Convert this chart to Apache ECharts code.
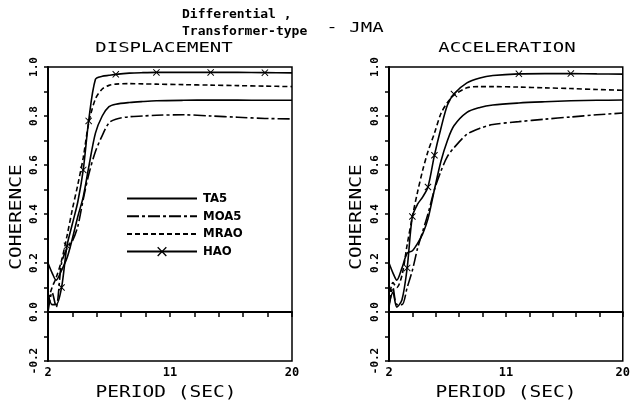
<!DOCTYPE html>
<html><head><meta charset="utf-8">
<script src="https://cdn.jsdelivr.net/npm/echarts@6/dist/echarts.min.js"></script>
<style>html,body{margin:0;padding:0;background:#fff}#c{width:633px;height:406px}</style>
</head><body><div id="c"></div>
<script>
// Period (sec) sample points
const period = [2, 2.3, 2.6, 3.0, 3.4, 3.8, 4.2, 4.6, 5.0, 5.5, 6.0, 6.5, 7, 8, 9, 10, 12, 14, 16, 18, 20];
// DISPLACEMENT panel
const dispTA5  = [0.20,0.16,0.13,0.17,0.22,0.30,0.39,0.47,0.59,0.73,0.80,0.838,0.848,0.855,0.859,0.862,0.864,0.865,0.865,0.864,0.864];
const dispMOA5 = [0.00,0.08,0.02,0.20,0.26,0.29,0.35,0.46,0.56,0.655,0.72,0.772,0.787,0.797,0.800,0.803,0.805,0.800,0.795,0.790,0.788];
const dispMRAO = [0.05,0.10,0.14,0.21,0.31,0.42,0.52,0.63,0.77,0.87,0.91,0.925,0.930,0.932,0.931,0.930,0.928,0.926,0.924,0.922,0.920];
const dispHAO  = [0.08,0.03,0.03,0.10,0.27,0.36,0.45,0.58,0.78,0.95,0.962,0.966,0.970,0.975,0.977,0.978,0.978,0.978,0.978,0.977,0.976];
const dispHAOMarks = [3.0, 3.4, 4.6, 5.0, 7, 10, 14, 18];
// ACCELERATION panel
const accTA5  = [0.20,0.16,0.13,0.18,0.24,0.25,0.28,0.32,0.38,0.50,0.615,0.70,0.76,0.815,0.835,0.845,0.853,0.858,0.862,0.864,0.865];
const accMOA5 = [0.02,0.10,0.03,0.03,0.10,0.17,0.26,0.33,0.40,0.50,0.575,0.635,0.67,0.725,0.750,0.765,0.777,0.787,0.796,0.805,0.812];
const accMRAO = [0.05,0.12,0.10,0.15,0.275,0.39,0.49,0.58,0.655,0.73,0.81,0.855,0.885,0.915,0.920,0.920,0.918,0.915,0.912,0.908,0.905];
const accHAO  = [0.03,0.08,0.02,0.05,0.18,0.39,0.44,0.47,0.51,0.64,0.75,0.845,0.89,0.935,0.955,0.965,0.972,0.973,0.973,0.972,0.971];
const accHAOMarks = [3.4, 3.8, 5.0, 5.5, 7, 12, 16];
// Axis ticks / labels
const xTicks = [2, 3.8, 5.6, 7.4, 9.2, 11, 12.8, 14.6, 16.4, 18.2, 20];
const xLabels = [2, 11, 20];
const yLabels = [-0.2, 0, 0.2, 0.4, 0.6, 0.8, 1.0];
const seriesNames = ['TA5', 'MOA5', 'MRAO', 'HAO'];

const XSYM = 'path://M0,1L1,0L5,4L9,0L10,1L6,5L10,9L9,10L5,6L1,10L0,9L4,5Z';
const styles = {
  TA5: {type: 'solid'},
  MOA5: {type: [12, 3, 3, 3]},
  MRAO: {type: [5, 3]},
  HAO: {type: 'solid'}
};

function mk(name, idx, vals, marks) {
  return {
    name: name, type: 'line', xAxisIndex: idx, yAxisIndex: idx,
    smooth: 0.3, showAllSymbol: true,
    symbol: marks ? XSYM : 'none', symbolSize: 7,
    itemStyle: {color: '#000'},
    lineStyle: {color: '#000', width: 1.6, type: styles[name].type},
    data: period.map((p, i) => marks ? {value: [p, vals[i]], symbol: marks.includes(p) ? XSYM : 'none'} : [p, vals[i]]),
    z: 3
  };
}

const series = [
  mk('TA5', 0, dispTA5), mk('MOA5', 0, dispMOA5), mk('MRAO', 0, dispMRAO), mk('HAO', 0, dispHAO, dispHAOMarks),
  mk('TA5', 1, accTA5), mk('MOA5', 1, accMOA5), mk('MRAO', 1, accMRAO), mk('HAO', 1, accHAO, accHAOMarks)
];
[0, 4].forEach(k => {
  series[k].markLine = {silent: true, symbol: 'none', label: {show: false},
    lineStyle: {color: '#000', width: 2, type: 'solid'}, data: [{yAxis: 0}]};
});

const MONO = '"DejaVu Sans Mono", monospace';
function xAx(idx) {
  return {
    type: 'value', gridIndex: idx, min: 2, max: 20,
    axisLine: {lineStyle: {color: '#000', width: 2}},
    axisTick: {show: true, length: 5, customValues: xTicks, lineStyle: {color: '#000', width: 1.5}},
    axisLabel: {customValues: xLabels, color: '#000', fontFamily: MONO, fontWeight: 'bold', fontSize: 12, margin: 6},
    splitLine: {show: false}
  };
}
function yAx(idx) {
  return {
    type: 'value', gridIndex: idx, min: -0.2, max: 1.0, interval: 0.1,
    axisLine: {show: true, lineStyle: {color: '#000', width: 2}},
    axisTick: {show: true, length: 4, lineStyle: {color: '#000', width: 1.5}},
    axisLabel: {customValues: yLabels, rotate: 90, color: '#000', fontFamily: MONO, fontWeight: 'bold', fontSize: 11, margin: 8,
      formatter: v => Number(v).toFixed(1)},
    splitLine: {show: false}
  };
}

function txt(x, y, text, size, sx, opts) {
  opts = opts || {};
  const el = {
    type: 'text', x: x, y: y, scaleX: sx, scaleY: 1,
    style: {text: text, fill: '#000', font: (opts.weight ? opts.weight + ' ' : '') + size + 'px ' + MONO,
      textAlign: opts.align || 'center', textVerticalAlign: 'middle'}
  };
  if (opts.rot) el.rotation = opts.rot;
  return el;
}

const option = {
  backgroundColor: '#fff',
  animation: false,
  grid: [
    {left: 48, right: 341, top: 67, bottom: 45, show: true, borderColor: '#000', borderWidth: 1.5},
    {left: 389, right: 2, top: 67, bottom: 45, show: true, borderColor: '#000', borderWidth: 1.5}
  ],
  xAxis: [xAx(0), xAx(1)],
  yAxis: [yAx(0), yAx(1)],
  legend: {
    data: [
      {name: 'TA5', itemStyle: {opacity: 0}},
      {name: 'MOA5', itemStyle: {opacity: 0}},
      {name: 'MRAO', itemStyle: {opacity: 0}},
      {name: 'HAO'}
    ],
    orient: 'vertical', left: 121, top: 187,
    itemWidth: 70, itemHeight: 12, itemGap: 4.7,
    textStyle: {color: '#000', fontFamily: '"DejaVu Sans Condensed", "Liberation Sans Narrow", "DejaVu Sans", sans-serif',
      fontWeight: 'bold', fontSize: 13, padding: [0, 0, 0, 1]},
    selectedMode: false
  },
  graphic: [
    txt(182, 15, 'Differential ,', 13, 1.0, {align: 'left', weight: 'bold'}),
    txt(182, 32, 'Transformer-type', 13, 1.0, {align: 'left', weight: 'bold'}),
    txt(355, 28, '- JMA', 14, 1.36),
    txt(164, 48, 'DISPLACEMENT', 14, 1.36),
    txt(507, 48, 'ACCELERATION', 14, 1.36),
    txt(166, 393, 'PERIOD (SEC)', 15, 1.3),
    txt(506, 393, 'PERIOD (SEC)', 15, 1.3),
    txt(17, 217, 'COHERENCE', 15, 1.3, {rot: Math.PI / 2}),
    txt(357, 217, 'COHERENCE', 15, 1.3, {rot: Math.PI / 2})
  ],
  series: series
};
const chart = echarts.init(document.getElementById('c'), null, {renderer: 'canvas'});
chart.setOption(option);
</script></body></html>
